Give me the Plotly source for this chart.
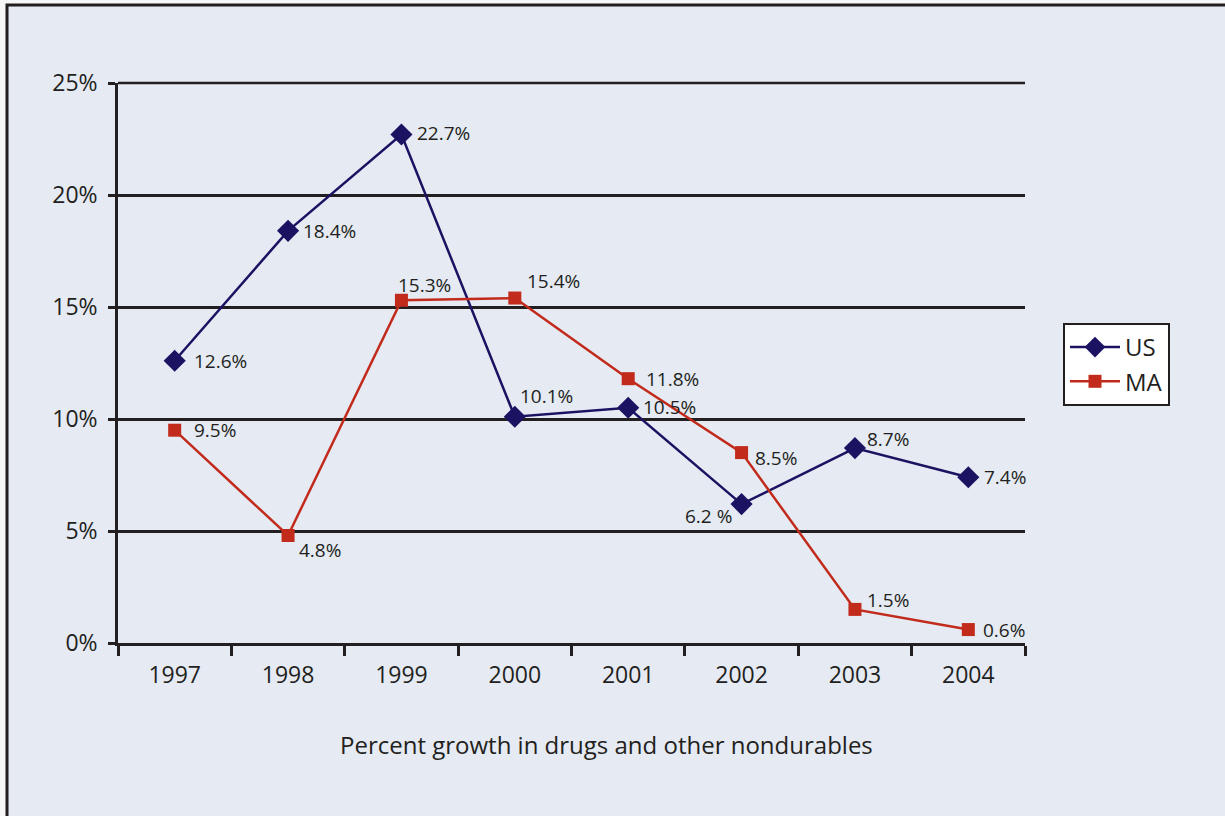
import plotly.graph_objects as go

years = ["1997", "1998", "1999", "2000", "2001", "2002", "2003", "2004"]
us_values = [12.6, 18.4, 22.7, 10.1, 10.5, 6.2, 8.7, 7.4]
ma_values = [9.5, 4.8, 15.3, 15.4, 11.8, 8.5, 1.5, 0.6]
us_labels = ["12.6%", "18.4%", "22.7%", "10.1%", "10.5%", "6.2 %", "8.7%", "7.4%"]
ma_labels = ["9.5%", "4.8%", "15.3%", "15.4%", "11.8%", "8.5%", "1.5%", "0.6%"]
y_ticks = [0, 5, 10, 15, 20, 25]
y_ticktext = ["0%", "5%", "10%", "15%", "20%", "25%"]
x_title = "Percent growth in drugs and other nondurables"

# label placement styles (pixel offsets, anchor)
us_offsets = [(17, 0, "left"), (13, 0, "left"), (14, 2, "left"), (3, 21, "left"),
              (13, 1, "left"), (-8, -12, "right"), (10, 9, "left"), (14, 0, "left")]
ma_offsets = [(17, 0, "left"), (9, -15, "left"), (-5, 15, "left"), (10, 17, "left"),
              (16, 0, "left"), (11, -5, "left"), (10, 9, "left"), (13, 0, "left")]

NAVY = "#1B1262"
RED = "#C22B1B"
INK = "#231F20"
BG = "#E5EAF3"
FONT = "Open Sans"

fig = go.Figure()
fig.add_trace(go.Scatter(x=years, y=us_values, name="US", mode="lines+markers",
                         line=dict(color=NAVY, width=2.5),
                         marker=dict(symbol="diamond", size=17, color=NAVY)))
fig.add_trace(go.Scatter(x=years, y=ma_values, name="MA", mode="lines+markers",
                         line=dict(color=RED, width=2.5),
                         marker=dict(symbol="square", size=13, color=RED)))

annotations = []
for vals, labs, offs in ((us_values, us_labels, us_offsets), (ma_values, ma_labels, ma_offsets)):
    for i, (v, lab, (dx, dy, anc)) in enumerate(zip(vals, labs, offs)):
        annotations.append(dict(x=i, y=v, xref="x", yref="y", text=lab, showarrow=False,
                                xanchor=anc, yanchor="middle", xshift=dx, yshift=dy,
                                font=dict(family=FONT, size=19, color=INK)))
annotations.append(dict(x=0.539, y=-0.182, xref="paper", yref="paper", text=x_title,
                        showarrow=False, xanchor="center", yanchor="middle",
                        font=dict(family=FONT, size=24, color=INK)))

# frame: px -> paper conversions (plot area 118..1025 x, 83..643 y)
def px_x(p):
    return (p - 118) / 907.0

def px_y(p):
    return (643 - p) / 560.0

shapes = [dict(type="rect", xref="paper", yref="paper",
               x0=px_x(7), x1=px_x(1240), y0=px_y(830), y1=px_y(5),
               fillcolor=BG, line=dict(color=INK, width=3), layer="below"),
          dict(type="line", xref="paper", yref="paper", x0=0, x1=1, y0=1, y1=1,
               line=dict(color=INK, width=2.5), layer="below")]

fig.update_layout(
    width=1225, height=816,
    margin=dict(l=118, r=200, t=83, b=173),
    paper_bgcolor="#F7F7F7", plot_bgcolor="rgba(0,0,0,0)",
    font=dict(family=FONT, color=INK),
    showlegend=True,
    legend=dict(x=px_x(1063), y=px_y(323), xanchor="left", yanchor="top",
                bgcolor="white", bordercolor=INK, borderwidth=2,
                font=dict(family=FONT, size=24, color=INK),
                tracegroupgap=0, itemwidth=50),
    annotations=annotations,
    shapes=shapes,
    xaxis=dict(type="category", range=[-0.5, 7.5], tickson="boundaries",
               ticks="outside", ticklen=10, tickwidth=2.5, tickcolor=INK,
               showline=True, linecolor=INK, linewidth=2.5, showgrid=False,
               ticklabelstandoff=10,
               tickfont=dict(family=FONT, size=23, color=INK), zeroline=False),
    yaxis=dict(range=[0, 25], tickvals=y_ticks, ticktext=y_ticktext,
               ticks="outside", ticklen=7, tickwidth=2.5, tickcolor=INK,
               showline=True, linecolor=INK, linewidth=2.5,
               showgrid=True, gridcolor=INK, gridwidth=2.5, zeroline=False,
               ticklabelstandoff=6,
               tickfont=dict(family=FONT, size=23, color=INK)),
)

fig.write_html("out.html")
